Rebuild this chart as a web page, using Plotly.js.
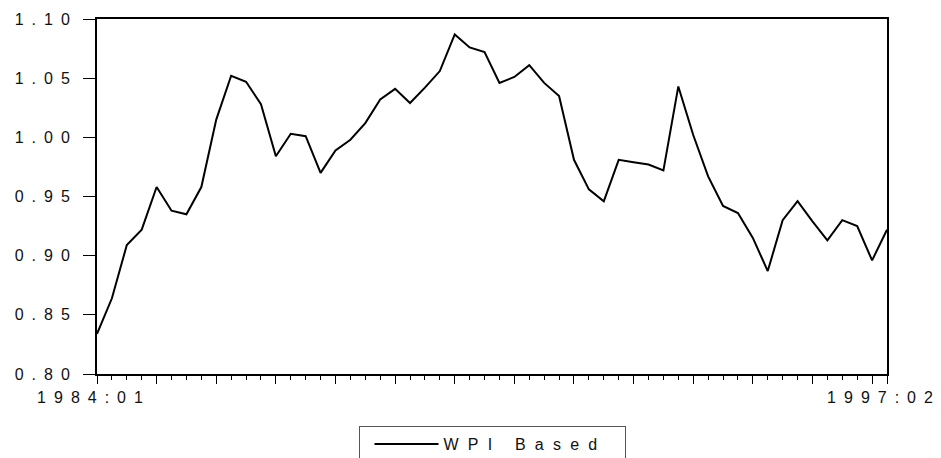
<!DOCTYPE html>
<html>
<head>
<meta charset="utf-8">
<script src="https://cdn.plot.ly/plotly-3.0.1.min.js"></script>
<style>
  html, body { margin: 0; padding: 0; background: #fff; }
  #chart { width: 941px; height: 458px; }
  #chart .xtick text, #chart .ytick text { letter-spacing: 8px; }
  #chart .legendtext { letter-spacing: 9.2px; }
</style>
</head>
<body>
<div id="chart"></div>
<script>
const quarters = [
  "1984:01","1984:02","1984:03","1984:04",
  "1985:01","1985:02","1985:03","1985:04",
  "1986:01","1986:02","1986:03","1986:04",
  "1987:01","1987:02","1987:03","1987:04",
  "1988:01","1988:02","1988:03","1988:04",
  "1989:01","1989:02","1989:03","1989:04",
  "1990:01","1990:02","1990:03","1990:04",
  "1991:01","1991:02","1991:03","1991:04",
  "1992:01","1992:02","1992:03","1992:04",
  "1993:01","1993:02","1993:03","1993:04",
  "1994:01","1994:02","1994:03","1994:04",
  "1995:01","1995:02","1995:03","1995:04",
  "1996:01","1996:02","1996:03","1996:04",
  "1997:01","1997:02"
];
const wpiBased = [
  0.834, 0.864, 0.909, 0.922,
  0.958, 0.938, 0.935, 0.958,
  1.015, 1.052, 1.047, 1.028,
  0.984, 1.003, 1.001, 0.970,
  0.989, 0.998, 1.012, 1.032,
  1.041, 1.029, 1.042, 1.056,
  1.087, 1.076, 1.072, 1.046,
  1.051, 1.061, 1.046, 1.035,
  0.981, 0.956, 0.946, 0.981,
  0.979, 0.977, 0.972, 1.043,
  1.002, 0.967, 0.942, 0.936,
  0.915, 0.887, 0.930, 0.946,
  0.929, 0.913, 0.930, 0.925,
  0.896, 0.922
];
const seriesName = "WPI Based";
const yTicks = [0.80, 0.85, 0.90, 0.95, 1.00, 1.05, 1.10];
const xLabelTicks = ["1984:01", "1997:02"];
const majorTickQuarters = ["1984:01","1985:01","1986:01","1987:01","1988:01","1989:01","1990:01",
  "1991:01","1992:01","1993:01","1994:01","1995:01","1996:01","1997:01"];

const idx = q => quarters.indexOf(q);
const xs = quarters.map((q, i) => i);

const tickVals = majorTickQuarters.map(idx).concat([idx("1997:02")]);
const tickText = tickVals.map(v => xLabelTicks.includes(quarters[v]) ? quarters[v] : "");

const font = { family: "Liberation Sans, Arial, sans-serif", size: 16, color: "#111" };

Plotly.newPlot("chart", [{
  type: "scatter",
  mode: "lines",
  x: xs,
  y: wpiBased,
  name: seriesName,
  line: { color: "#000", width: 2 },
  showlegend: true
}], {
  width: 941, height: 458,
  margin: { l: 97, r: 54, t: 19, b: 84, pad: 0, autoexpand: false },
  paper_bgcolor: "#fff", plot_bgcolor: "#fff",
  font: font,
  showlegend: true,
  legend: {
    orientation: "h", x: 0.5, xanchor: "center", y: -0.1465, yanchor: "top",
    bordercolor: "#555", borderwidth: 1, font: font, itemwidth: 64,
    indentation: 10,
    entrywidth: 176, entrywidthmode: "pixels",
    bgcolor: "#fff"
  },
  xaxis: {
    type: "linear", range: [0, quarters.length - 1],
    showgrid: false, zeroline: false,
    showline: true, linecolor: "#000", linewidth: 2, mirror: true,
    tickmode: "array", tickvals: tickVals, ticktext: tickText,
    ticks: "outside", ticklen: 8, tickwidth: 1, tickcolor: "#000",
    ticklabelshift: -3,
    minor: { dtick: 1, tick0: 0, ticks: "outside", ticklen: 4, tickwidth: 1, tickcolor: "#000", showgrid: false },
    tickfont: font, fixedrange: true
  },
  yaxis: {
    range: [0.80, 1.10],
    showgrid: false, zeroline: false,
    showline: true, linecolor: "#000", linewidth: 2, mirror: true,
    tickmode: "array", tickvals: yTicks, ticktext: yTicks.map(v => v.toFixed(2)),
    ticks: "outside", ticklen: 12, tickwidth: 1, tickcolor: "#000",
    ticklabelstandoff: 2,
    tickfont: font, fixedrange: true
  }
}, { staticPlot: true, displayModeBar: false });
</script>
</body>
</html>
